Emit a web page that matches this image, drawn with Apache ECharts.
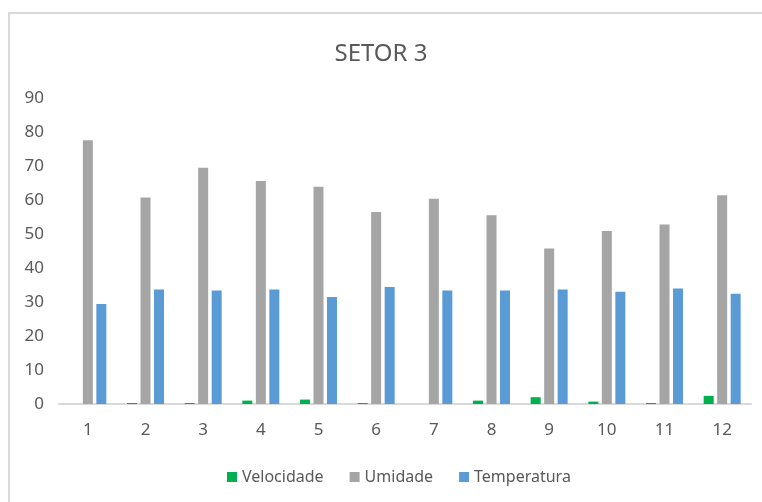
<!DOCTYPE html>
<html>
<head>
<meta charset="utf-8">
<script src="https://cdn.jsdelivr.net/npm/echarts@6/dist/echarts.min.js"></script>
<style>
html,body{margin:0;padding:0;background:#fff;}
#frame{position:absolute;left:8px;top:12px;width:760px;height:500px;border-left:2px solid #d9d9d9;border-top:2px solid #d9d9d9;}
#chart{position:absolute;left:0;top:0;width:762px;height:502px;}
</style>
</head>
<body>
<div id="frame"></div>
<div id="chart"></div>
<script>
var categories = ['1','2','3','4','5','6','7','8','9','10','11','12'];
var velocidade = [0, 0.3, 0.3, 1.0, 1.3, 0.3, 0, 1.0, 2.0, 0.7, 0.3, 2.4];
var umidade = [77.6, 60.7, 69.5, 65.6, 63.9, 56.5, 60.4, 55.5, 45.7, 50.9, 52.8, 61.4];
var temperatura = [29.4, 33.7, 33.4, 33.7, 31.5, 34.4, 33.4, 33.4, 33.7, 33.0, 34.0, 32.4];

var font = 'Noto Sans';
var txt = '#595959';
var chart = echarts.init(document.getElementById('chart'), null, {renderer:'canvas'});
chart.setOption({
  backgroundColor: 'transparent',
  animation: false,
  title: {text:'SETOR 3', left:'center', top:37, textStyle:{fontFamily:font, fontSize:24, fontWeight:'normal', color:txt}},
  legend: {bottom:12, left:222, itemWidth:10, itemHeight:10, itemGap:26, icon:'rect',
    textStyle:{fontFamily:font, fontSize:16, color:txt},
    data:['Velocidade','Umidade','Temperatura']},
  grid: {left:59, right:11, top:98, bottom:98},
  xAxis: {type:'category', data:categories,
    axisLine:{lineStyle:{color:'#d9d9d9', width:2}}, axisTick:{show:false},
    axisLabel:{fontFamily:font, fontSize:17, color:txt, margin:18}},
  yAxis: {type:'value', min:0, max:90, interval:10,
    axisLine:{show:false}, axisTick:{show:false}, splitLine:{show:false},
    axisLabel:{fontFamily:font, fontSize:17, color:txt, margin:15}},
  series: [
    {name:'Velocidade', type:'bar', data:velocidade, barWidth:10, barGap:'35%', itemStyle:{color:'#00b050'}},
    {name:'Umidade', type:'bar', data:umidade, barWidth:10, barGap:'35%', itemStyle:{color:'#a5a5a5'}},
    {name:'Temperatura', type:'bar', data:temperatura, barWidth:10, barGap:'35%', itemStyle:{color:'#5b9bd5'}}
  ]
});
</script>
</body>
</html>
